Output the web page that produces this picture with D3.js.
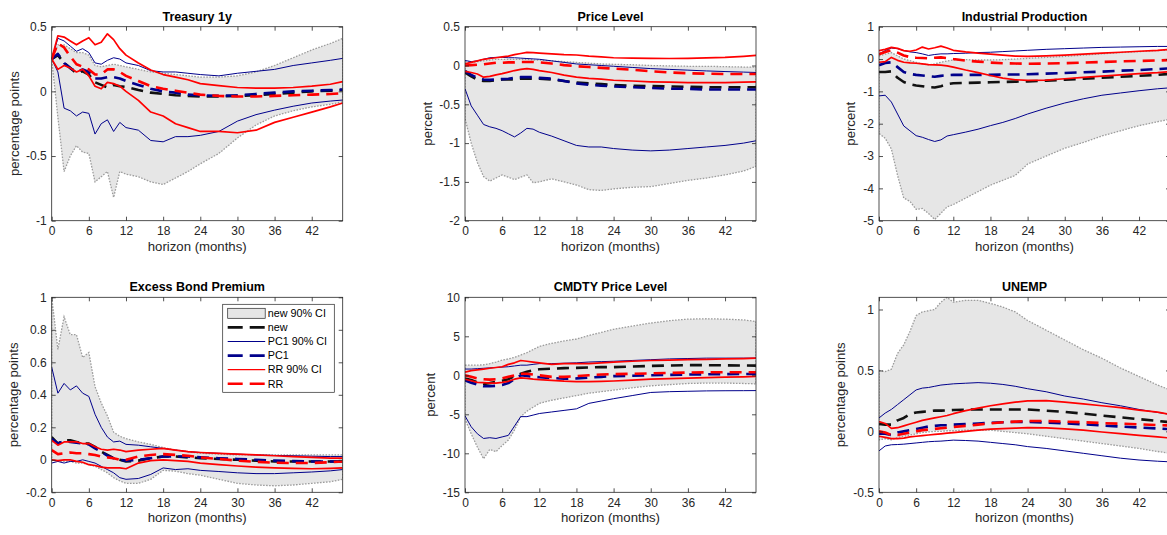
<!DOCTYPE html>
<html>
<head>
<meta charset="utf-8">
<script src="https://cdn.jsdelivr.net/npm/d3@7"></script>
<style>
  html, body { margin: 0; padding: 0; background: #fff; overflow: hidden; }
  svg { display: block; font-family: "Liberation Sans", Arial, Helvetica, sans-serif; }
</style>
</head>
<body>
<svg id="fig" width="1167" height="535"></svg>
<script>
// Impulse responses over the horizon (months); each panel: new-shock 90% band,
// new median, PC1 band + median, RR band + median.
const horizon = [0,1,2,3,4,5,6,7,8,9,10,11,12,14,16,18,20,22,24,27,30,33,36,39,42,45,47];
const xTicks = [0,6,12,18,24,30,36,42];

// Treasury 1y
const t1Lo   = [0.25,-0.20,-0.62,-0.50,-0.42,-0.47,-0.48,-0.70,-0.66,-0.62,-0.82,-0.62,-0.64,-0.66,-0.70,-0.72,-0.67,-0.62,-0.56,-0.48,-0.36,-0.26,-0.19,-0.15,-0.12,-0.10,-0.08];
const t1Hi   = [0.25,0.36,0.36,0.33,0.30,0.30,0.28,0.20,0.19,0.20,0.21,0.20,0.19,0.17,0.15,0.14,0.13,0.12,0.11,0.11,0.12,0.15,0.20,0.26,0.32,0.37,0.41];
const t1New  = [0.25,0.28,0.22,0.18,0.14,0.155,0.13,0.07,0.05,0.03,0.05,0.04,0.035,0.01,-0.01,-0.02,-0.03,-0.035,-0.04,-0.04,-0.035,-0.03,-0.02,-0.01,0.0,0.005,0.01];
const t1PcLo = [0.25,0.15,-0.13,-0.15,-0.19,-0.16,-0.17,-0.33,-0.25,-0.22,-0.31,-0.24,-0.28,-0.30,-0.38,-0.39,-0.35,-0.35,-0.34,-0.31,-0.23,-0.18,-0.145,-0.115,-0.09,-0.075,-0.067];
const t1PcHi = [0.25,0.41,0.39,0.35,0.31,0.33,0.30,0.22,0.21,0.24,0.26,0.25,0.22,0.20,0.16,0.15,0.15,0.14,0.13,0.12,0.14,0.155,0.17,0.20,0.22,0.24,0.255];
const t1Pc   = [0.25,0.29,0.22,0.18,0.15,0.17,0.15,0.10,0.10,0.11,0.11,0.10,0.08,0.05,0.02,0.0,-0.01,-0.025,-0.03,-0.035,-0.03,-0.02,-0.01,0.0,0.005,0.01,0.015];
const t1RrLo = [0.25,0.17,0.20,0.18,0.15,0.17,0.12,0.04,0.02,0.07,0.06,0.04,0.0,-0.07,-0.16,-0.19,-0.25,-0.28,-0.31,-0.31,-0.32,-0.30,-0.24,-0.20,-0.16,-0.12,-0.09];
const t1RrHi = [0.25,0.43,0.42,0.39,0.36,0.39,0.415,0.36,0.38,0.445,0.40,0.33,0.28,0.22,0.165,0.13,0.11,0.09,0.06,0.045,0.03,0.025,0.025,0.03,0.04,0.055,0.075];
const t1Rr   = [0.25,0.37,0.34,0.27,0.21,0.19,0.17,0.13,0.13,0.17,0.17,0.15,0.12,0.08,0.04,0.02,0.005,-0.01,-0.025,-0.035,-0.04,-0.04,-0.035,-0.03,-0.025,-0.02,-0.015];

// Price Level
const p2Lo   = [-0.68,-1.00,-1.25,-1.43,-1.49,-1.45,-1.41,-1.44,-1.47,-1.44,-1.41,-1.51,-1.50,-1.46,-1.50,-1.54,-1.60,-1.61,-1.59,-1.57,-1.56,-1.52,-1.48,-1.45,-1.41,-1.36,-1.30];
const p2Hi   = [0.05,0.04,0.05,0.06,0.07,0.08,0.08,0.08,0.08,0.08,0.08,0.07,0.07,0.06,0.05,0.04,0.03,0.02,0.015,0.01,0.0,-0.005,-0.01,-0.01,-0.015,-0.02,-0.02];
const p2New  = [-0.09,-0.14,-0.18,-0.20,-0.20,-0.19,-0.18,-0.18,-0.18,-0.17,-0.17,-0.17,-0.17,-0.18,-0.20,-0.22,-0.23,-0.24,-0.25,-0.26,-0.265,-0.27,-0.275,-0.28,-0.28,-0.28,-0.28];
const p2PcLo = [-0.30,-0.52,-0.64,-0.76,-0.79,-0.81,-0.84,-0.88,-0.92,-0.87,-0.81,-0.82,-0.86,-0.91,-0.97,-1.03,-1.05,-1.05,-1.07,-1.09,-1.10,-1.09,-1.07,-1.05,-1.03,-1.00,-0.97];
const p2PcHi = [0.065,0.05,0.06,0.08,0.10,0.105,0.105,0.10,0.10,0.095,0.09,0.085,0.08,0.06,0.04,0.02,0.01,0.0,-0.01,-0.025,-0.04,-0.05,-0.06,-0.07,-0.078,-0.085,-0.09];
const p2Pc   = [-0.07,-0.12,-0.16,-0.18,-0.185,-0.18,-0.175,-0.17,-0.16,-0.15,-0.15,-0.15,-0.16,-0.17,-0.20,-0.23,-0.25,-0.26,-0.27,-0.28,-0.29,-0.30,-0.30,-0.31,-0.31,-0.31,-0.31];
const p2RrLo = [-0.075,-0.09,-0.11,-0.15,-0.14,-0.12,-0.105,-0.085,-0.065,-0.05,-0.04,-0.05,-0.065,-0.09,-0.125,-0.15,-0.165,-0.175,-0.19,-0.20,-0.21,-0.215,-0.22,-0.22,-0.22,-0.215,-0.21];
const p2RrHi = [0.02,0.04,0.06,0.08,0.09,0.10,0.11,0.12,0.14,0.155,0.17,0.165,0.16,0.15,0.14,0.135,0.12,0.11,0.10,0.095,0.092,0.09,0.092,0.098,0.105,0.118,0.13];
const p2Rr   = [0.0,0.005,0.01,0.015,0.025,0.035,0.035,0.04,0.04,0.045,0.045,0.045,0.04,0.025,0.005,-0.01,-0.02,-0.03,-0.04,-0.055,-0.075,-0.09,-0.10,-0.105,-0.11,-0.11,-0.11];

// Industrial Production
const p3Lo   = [-2.30,-2.45,-2.78,-3.60,-4.30,-4.40,-4.65,-4.62,-4.78,-4.96,-4.77,-4.57,-4.50,-4.30,-4.10,-3.90,-3.75,-3.60,-3.25,-3.00,-2.76,-2.58,-2.38,-2.22,-2.06,-1.94,-1.86];
const p3Hi   = [0.10,0.15,0.20,0.10,0.0,-0.05,-0.10,-0.15,-0.18,-0.15,-0.10,-0.06,-0.03,-0.02,-0.03,-0.03,-0.02,0.0,0.02,0.05,0.08,0.12,0.16,0.20,0.23,0.26,0.28];
const p3New  = [-0.40,-0.40,-0.38,-0.58,-0.71,-0.78,-0.82,-0.84,-0.87,-0.88,-0.84,-0.78,-0.75,-0.74,-0.73,-0.72,-0.71,-0.70,-0.69,-0.67,-0.64,-0.61,-0.58,-0.55,-0.52,-0.49,-0.46];
const p3PcLo = [-1.14,-1.12,-1.33,-1.70,-2.07,-2.22,-2.37,-2.42,-2.49,-2.55,-2.50,-2.38,-2.34,-2.26,-2.17,-2.06,-1.96,-1.84,-1.70,-1.52,-1.36,-1.23,-1.12,-1.05,-0.98,-0.92,-0.89];
const p3PcHi = [0.16,0.26,0.34,0.32,0.26,0.22,0.20,0.16,0.11,0.14,0.16,0.16,0.17,0.18,0.20,0.21,0.23,0.25,0.27,0.30,0.32,0.34,0.36,0.37,0.38,0.39,0.39];
const p3Pc   = [-0.19,-0.12,-0.10,-0.25,-0.40,-0.46,-0.49,-0.51,-0.53,-0.55,-0.52,-0.50,-0.49,-0.49,-0.49,-0.49,-0.48,-0.48,-0.47,-0.45,-0.43,-0.41,-0.39,-0.36,-0.34,-0.31,-0.29];
const p3RrLo = [-0.10,-0.08,0.05,-0.04,-0.10,-0.12,-0.13,-0.15,-0.17,-0.18,-0.19,-0.21,-0.25,-0.34,-0.42,-0.51,-0.59,-0.64,-0.66,-0.65,-0.61,-0.57,-0.53,-0.49,-0.45,-0.42,-0.39];
const p3RrHi = [0.26,0.30,0.36,0.33,0.26,0.24,0.28,0.37,0.31,0.35,0.40,0.34,0.27,0.22,0.18,0.15,0.12,0.09,0.08,0.10,0.12,0.15,0.18,0.21,0.24,0.27,0.30];
const p3Rr   = [0.15,0.22,0.27,0.20,0.11,0.06,0.04,0.03,0.02,0.04,0.05,0.03,0.0,-0.05,-0.08,-0.11,-0.13,-0.14,-0.145,-0.14,-0.13,-0.11,-0.09,-0.07,-0.06,-0.045,-0.03];

// Excess Bond Premium
const p4Lo   = [0.0,-0.01,-0.01,-0.01,-0.02,-0.02,-0.03,-0.04,-0.06,-0.08,-0.11,-0.13,-0.145,-0.145,-0.12,-0.065,-0.07,-0.085,-0.095,-0.12,-0.145,-0.155,-0.16,-0.155,-0.145,-0.135,-0.12];
const p4Hi   = [1.00,0.68,0.88,0.77,0.77,0.63,0.66,0.45,0.35,0.27,0.17,0.145,0.13,0.11,0.095,0.075,0.06,0.05,0.04,0.035,0.03,0.03,0.03,0.03,0.03,0.03,0.03];
const p4New  = [0.14,0.10,0.12,0.12,0.11,0.10,0.10,0.08,0.05,0.03,0.01,0.0,-0.01,-0.005,0.01,0.02,0.02,0.015,0.01,0.005,0.0,-0.005,-0.01,-0.01,-0.01,-0.01,-0.01];
const p4PcLo = [-0.02,-0.01,-0.02,-0.01,-0.01,0.0,-0.01,-0.02,-0.04,-0.06,-0.08,-0.11,-0.12,-0.115,-0.09,-0.05,-0.06,-0.055,-0.065,-0.072,-0.08,-0.085,-0.085,-0.08,-0.075,-0.068,-0.06];
const p4PcHi = [0.57,0.41,0.47,0.43,0.455,0.41,0.39,0.28,0.20,0.14,0.11,0.115,0.095,0.09,0.08,0.07,0.06,0.05,0.045,0.04,0.035,0.03,0.027,0.025,0.022,0.02,0.02];
const p4Pc   = [0.13,0.10,0.115,0.11,0.105,0.10,0.095,0.07,0.05,0.025,0.01,0.0,-0.005,0.0,0.01,0.02,0.02,0.02,0.015,0.01,0.005,0.0,-0.005,-0.008,-0.01,-0.01,-0.01];
const p4RrLo = [0.0,-0.005,0.0,0.0,-0.01,-0.015,-0.03,-0.035,-0.045,-0.05,-0.05,-0.05,-0.055,-0.02,-0.005,0.0,-0.005,-0.01,-0.02,-0.03,-0.038,-0.045,-0.05,-0.053,-0.055,-0.053,-0.05];
const p4RrHi = [0.12,0.09,0.11,0.11,0.11,0.10,0.10,0.08,0.065,0.06,0.065,0.06,0.05,0.06,0.065,0.07,0.06,0.05,0.045,0.04,0.035,0.03,0.025,0.02,0.015,0.01,0.01];
const p4Rr   = [0.06,0.035,0.04,0.045,0.04,0.04,0.035,0.03,0.02,0.015,0.01,0.0,0.0,0.02,0.03,0.035,0.03,0.025,0.015,0.005,-0.005,-0.012,-0.018,-0.02,-0.02,-0.015,-0.01];

// CMDTY Price Level
const p5Lo   = [-5.6,-7.5,-9.2,-10.7,-9.5,-9.8,-9.0,-8.3,-7.0,-5.3,-4.6,-4.1,-3.6,-3.2,-2.9,-2.6,-2.3,-2.1,-1.9,-1.6,-1.35,-1.2,-1.05,-1.0,-1.0,-1.05,-1.1];
const p5Hi   = [1.3,1.3,1.3,1.35,1.5,1.7,1.95,2.1,2.3,2.6,2.9,3.3,3.7,4.1,4.4,4.65,5.1,5.5,5.9,6.3,6.7,7.0,7.2,7.25,7.2,7.1,6.9];
const p5New  = [-0.4,-0.6,-0.9,-1.1,-1.0,-0.85,-0.7,-0.5,-0.1,0.2,0.45,0.65,0.77,0.85,0.92,0.95,1.0,1.05,1.05,1.12,1.2,1.26,1.3,1.3,1.28,1.26,1.24];
const p5PcLo = [-5.2,-6.6,-7.5,-8.1,-8.0,-8.1,-7.9,-7.7,-6.5,-5.3,-5.3,-5.1,-4.9,-4.7,-4.5,-4.3,-3.6,-3.3,-3.0,-2.6,-2.2,-2.1,-2.05,-2.0,-1.98,-1.97,-1.96];
const p5PcHi = [0.8,0.8,0.85,0.9,0.95,1.0,1.05,1.1,1.2,1.3,1.3,1.4,1.5,1.5,1.55,1.6,1.7,1.75,1.8,1.9,2.0,2.1,2.15,2.2,2.2,2.2,2.2];
const p5Pc   = [-0.65,-0.95,-1.2,-1.4,-1.4,-1.35,-1.25,-1.0,-0.5,0.0,-0.1,-0.2,-0.25,-0.35,-0.45,-0.4,-0.3,-0.2,-0.1,-0.05,0.0,0.05,0.1,0.13,0.15,0.17,0.17];
const p5RrLo = [-0.5,-0.7,-0.9,-0.95,-1.0,-1.0,-0.9,-0.77,-0.5,-0.34,-0.4,-0.5,-0.55,-0.65,-0.75,-0.8,-0.8,-0.77,-0.73,-0.62,-0.5,-0.42,-0.36,-0.3,-0.24,-0.19,-0.15];
const p5RrHi = [0.4,0.6,0.7,0.8,0.9,1.0,1.1,1.4,1.6,1.9,1.8,1.7,1.6,1.4,1.5,1.5,1.5,1.6,1.7,1.8,1.9,1.95,2.0,2.05,2.1,2.15,2.2];
const p5Rr   = [0.0,-0.2,-0.4,-0.5,-0.55,-0.5,-0.4,-0.2,0.0,0.2,0.2,0.1,0.0,-0.2,-0.2,-0.1,0.0,0.1,0.15,0.2,0.25,0.3,0.35,0.38,0.4,0.4,0.4];

// UNEMP
const p6Lo   = [-0.07,-0.06,-0.07,-0.05,-0.04,-0.03,-0.02,-0.01,-0.005,0.0,0.0,0.005,0.005,0.01,0.01,0.01,0.0,-0.01,-0.02,-0.04,-0.06,-0.08,-0.10,-0.12,-0.14,-0.165,-0.18];
const p6Hi   = [0.50,0.49,0.51,0.64,0.71,0.82,0.95,0.98,0.99,1.00,1.06,1.10,1.06,1.075,1.075,1.05,1.02,0.98,0.91,0.83,0.75,0.67,0.60,0.52,0.45,0.38,0.34];
const p6New  = [0.06,0.055,0.055,0.09,0.11,0.14,0.155,0.16,0.165,0.17,0.17,0.172,0.175,0.178,0.18,0.18,0.18,0.18,0.18,0.17,0.16,0.145,0.13,0.115,0.10,0.085,0.075];
const p6PcLo = [-0.16,-0.12,-0.11,-0.108,-0.105,-0.10,-0.095,-0.09,-0.085,-0.082,-0.08,-0.076,-0.072,-0.075,-0.08,-0.09,-0.10,-0.11,-0.125,-0.14,-0.16,-0.18,-0.20,-0.22,-0.235,-0.245,-0.25];
const p6PcHi = [0.11,0.15,0.18,0.22,0.26,0.30,0.34,0.355,0.36,0.37,0.38,0.385,0.39,0.395,0.40,0.395,0.385,0.37,0.35,0.325,0.29,0.265,0.235,0.21,0.18,0.155,0.14];
const p6Pc   = [-0.02,-0.02,-0.03,-0.01,0.0,0.01,0.02,0.03,0.04,0.045,0.05,0.05,0.055,0.06,0.065,0.07,0.075,0.077,0.078,0.072,0.066,0.058,0.048,0.04,0.032,0.024,0.018];
const p6RrLo = [-0.04,-0.05,-0.06,-0.06,-0.055,-0.045,-0.04,-0.035,-0.03,-0.025,-0.02,-0.015,-0.01,0.0,0.01,0.018,0.022,0.026,0.03,0.028,0.02,0.01,-0.005,-0.018,-0.033,-0.045,-0.055];
const p6RrHi = [0.08,0.065,0.025,0.03,0.045,0.06,0.075,0.09,0.10,0.11,0.12,0.13,0.145,0.17,0.19,0.21,0.225,0.24,0.25,0.252,0.24,0.225,0.21,0.195,0.175,0.158,0.14];
const p6Rr   = [0.0,-0.01,-0.03,-0.03,-0.02,-0.01,0.0,0.01,0.015,0.02,0.025,0.03,0.035,0.045,0.055,0.065,0.075,0.08,0.085,0.085,0.08,0.075,0.068,0.063,0.058,0.052,0.048];

const legendLabels = ["new 90% CI", "new", "PC1 90% CI", "PC1", "RR 90% CI", "RR"];

const panels = [
  { title: "Treasury 1y", yLabel: "percentage points", yDomain: [-1, 0.5], yTicks: [-1, -0.5, 0, 0.5],
    ci: [t1Lo, t1Hi], med: t1New, pcCi: [t1PcLo, t1PcHi], pc: t1Pc, rrCi: [t1RrLo, t1RrHi], rr: t1Rr },
  { title: "Price Level", yLabel: "percent", yDomain: [-2, 0.5], yTicks: [-2, -1.5, -1, -0.5, 0, 0.5],
    ci: [p2Lo, p2Hi], med: p2New, pcCi: [p2PcLo, p2PcHi], pc: p2Pc, rrCi: [p2RrLo, p2RrHi], rr: p2Rr },
  { title: "Industrial Production", yLabel: "percent", yDomain: [-5, 1], yTicks: [-5, -4, -3, -2, -1, 0, 1],
    ci: [p3Lo, p3Hi], med: p3New, pcCi: [p3PcLo, p3PcHi], pc: p3Pc, rrCi: [p3RrLo, p3RrHi], rr: p3Rr },
  { title: "Excess Bond Premium", yLabel: "percentage points", yDomain: [-0.2, 1], yTicks: [-0.2, 0, 0.2, 0.4, 0.6, 0.8, 1],
    ci: [p4Lo, p4Hi], med: p4New, pcCi: [p4PcLo, p4PcHi], pc: p4Pc, rrCi: [p4RrLo, p4RrHi], rr: p4Rr, legend: true },
  { title: "CMDTY Price Level", yLabel: "percent", yDomain: [-15, 10], yTicks: [-15, -10, -5, 0, 5, 10],
    ci: [p5Lo, p5Hi], med: p5New, pcCi: [p5PcLo, p5PcHi], pc: p5Pc, rrCi: [p5RrLo, p5RrHi], rr: p5Rr },
  { title: "UNEMP", yLabel: "percentage points", yDomain: [-0.5, 1.1], yTicks: [-0.5, 0, 0.5, 1],
    ci: [p6Lo, p6Hi], med: p6New, pcCi: [p6PcLo, p6PcHi], pc: p6Pc, rrCi: [p6RrLo, p6RrHi], rr: p6Rr }
];

// Figure layout (pixels)
const layout = {
  lefts: [51.7, 465, 879], width: 291,
  tops: [26.7, 297.3], heights: [194, 195],
  yLabelOffset: [33.2, 33.5, 24, 33.4, 30, 34]
};

const AXIS = "#262626";
const C = { ciFill: "#e6e6e6", ciEdge: "#9c9c9c", med: "#111111", pc: "#00008b", rr: "#ff0000" };
const DASH = "12,7";
const W_DASH = 2.6, W_PC = 1.0, W_RR = 1.7;

const svg = d3.select("#fig");
const defs = svg.append("defs");
const fmt = v => String(v);

panels.forEach((p, i) => {
  const col = i % 3, row = Math.floor(i / 3);
  const L = layout.lefts[col], T = layout.tops[row];
  const W = layout.width, H = layout.heights[row];
  const x = d3.scaleLinear().domain([0, 47]).range([L, L + W]);
  const y = d3.scaleLinear().domain(p.yDomain).range([T + H, T]);

  defs.append("clipPath").attr("id", "clip" + i)
    .append("rect").attr("x", L).attr("y", T).attr("width", W).attr("height", H);

  const g = svg.append("g");
  const plot = g.append("g").attr("clip-path", `url(#clip${i})`);

  const line = d3.line().x((d, j) => x(horizon[j])).y(d => y(d));
  const area = d3.area().x((d, j) => x(horizon[j])).y0(d => y(d[0])).y1(d => y(d[1]));

  // new-shock 90% band
  plot.append("path")
    .attr("d", area(horizon.map((h, j) => [p.ci[0][j], p.ci[1][j]])) + "Z")
    .attr("fill", C.ciFill).attr("stroke", C.ciEdge)
    .attr("stroke-width", 1.3).attr("stroke-dasharray", "1.6,1.4");

  const draw = (vals, color, width, dash) => {
    const path = plot.append("path").attr("d", line(vals))
      .attr("fill", "none").attr("stroke", color).attr("stroke-width", width)
      .attr("stroke-linejoin", "round");
    if (dash) path.attr("stroke-dasharray", dash);
  };
  draw(p.med, C.med, W_DASH, DASH);
  draw(p.pcCi[0], C.pc, W_PC); draw(p.pcCi[1], C.pc, W_PC);
  draw(p.pc, C.pc, W_DASH, DASH);
  draw(p.rrCi[0], C.rr, W_RR); draw(p.rrCi[1], C.rr, W_RR);
  draw(p.rr, C.rr, W_DASH, DASH);

  // axes: ticks inside on all four sides
  const styleAxis = (sel, labels) => {
    sel.select(".domain").remove();
    sel.selectAll(".tick line").attr("stroke", AXIS).attr("stroke-width", 0.8);
    sel.selectAll(".tick text").attr("fill", AXIS).attr("font-size", 12)
      .attr("font-family", '"Liberation Sans", Arial, Helvetica, sans-serif');
    if (!labels) sel.selectAll(".tick text").remove();
  };
  g.append("g").attr("transform", `translate(0,${T + H})`)
    .call(d3.axisBottom(x).tickValues(xTicks).tickFormat(fmt).tickSizeInner(-4).tickSizeOuter(0).tickPadding(6))
    .call(s => styleAxis(s, true));
  g.append("g").attr("transform", `translate(0,${T})`)
    .call(d3.axisTop(x).tickValues(xTicks).tickSizeInner(-4).tickSizeOuter(0))
    .call(s => styleAxis(s, false));
  g.append("g").attr("transform", `translate(${L},0)`)
    .call(d3.axisLeft(y).tickValues(p.yTicks).tickFormat(fmt).tickSizeInner(-4).tickSizeOuter(0).tickPadding(5))
    .call(s => styleAxis(s, true));
  g.append("g").attr("transform", `translate(${L + W},0)`)
    .call(d3.axisRight(y).tickValues(p.yTicks).tickSizeInner(-4).tickSizeOuter(0))
    .call(s => styleAxis(s, false));

  g.append("rect").attr("x", L).attr("y", T).attr("width", W).attr("height", H)
    .attr("fill", "none").attr("stroke", AXIS).attr("stroke-width", 0.8);

  // title and axis labels
  g.append("text").attr("x", L + W / 2).attr("y", T - 6)
    .attr("text-anchor", "middle").attr("font-size", 12.5).attr("font-weight", "bold")
    .attr("fill", "#000").text(p.title);
  g.append("text").attr("x", L + W / 2).attr("y", T + H + 30)
    .attr("text-anchor", "middle").attr("font-size", 13.2).attr("fill", AXIS)
    .text("horizon (months)");
  const lx = L - layout.yLabelOffset[i], ly = T + H / 2;
  g.append("text").attr("transform", `translate(${lx},${ly}) rotate(-90)`)
    .attr("text-anchor", "middle").attr("font-size", 13.2).attr("fill", AXIS)
    .text(p.yLabel);

  if (p.legend) {
    const lg = g.append("g");
    const bx = 222.7, by = 304.3, bw = 111.6, bh = 88;
    lg.append("rect").attr("x", bx).attr("y", by).attr("width", bw).attr("height", bh)
      .attr("fill", "#fff").attr("stroke", AXIS).attr("stroke-width", 0.7);
    const rowY = k => by + 9 + k * 14.1;
    const sx0 = bx + 5, sx1 = bx + 42.5;
    const entries = [
      { type: "patch" },
      { color: C.med, width: W_DASH, dash: "15,7" },
      { color: C.pc, width: W_PC },
      { color: C.pc, width: W_DASH, dash: "15,7" },
      { color: C.rr, width: 1.2 },
      { color: C.rr, width: W_DASH, dash: "15,7" }
    ];
    entries.forEach((e, k) => {
      const cy = rowY(k);
      if (e.type === "patch") {
        lg.append("rect").attr("x", sx0).attr("y", cy - 5).attr("width", sx1 - sx0).attr("height", 10)
          .attr("fill", C.ciFill).attr("stroke", AXIS).attr("stroke-width", 0.7);
      } else {
        const ln = lg.append("line").attr("x1", sx0).attr("x2", sx1).attr("y1", cy).attr("y2", cy)
          .attr("stroke", e.color).attr("stroke-width", e.width);
        if (e.dash) ln.attr("stroke-dasharray", e.dash);
      }
      lg.append("text").attr("x", bx + 45).attr("y", cy).attr("dy", "0.35em")
        .attr("font-size", 10.8).attr("fill", "#000").text(legendLabels[k]);
    });
  }
});
</script>
</body>
</html>
